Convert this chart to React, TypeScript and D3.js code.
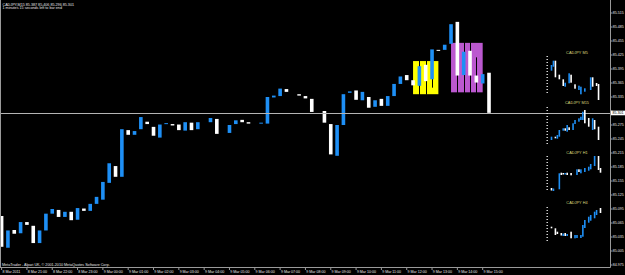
import React from 'react';
import * as d3 from 'd3';

const W = 625;
const H = 275;

// Main CADJPY M15 candles (open / close), bar 0 = 8 Mar 20:00
const candleOpen = [
  85.080, 85.012, 85.050, 85.043, 85.067, 85.059, 85.022, 85.049, 85.085, 85.093,
  85.078, 85.089, 85.072, 85.096, 85.091, 85.106, 85.115, 85.151, 85.187, 85.164,
  85.264, 85.254, 85.266, 85.282, 85.271, 85.248, 85.277, 85.277, 85.276, 85.263,
  85.280, 85.266, 85.281, 85.281, 85.288, 85.257, 85.258, 85.277, 85.286, 85.281,
  85.278, 85.278, 85.278, 85.334, 85.337, 85.352, 85.344, 85.341, 85.337, 85.331,
  85.303, 85.305, 85.277, 85.209, 85.275, 85.344, 85.349, 85.328, 85.335, 85.314,
  85.331, 85.316, 85.337, 85.363, 85.382, 85.371, 85.359, 85.404, 85.373, 85.436,
  85.436, 85.449, 85.496, 85.382, 85.434, 85.381, 85.364, 85.387,
];
const candleClose = [
  85.014, 85.049, 85.042, 85.067, 85.061, 85.022, 85.049, 85.085, 85.095, 85.078,
  85.089, 85.071, 85.097, 85.091, 85.106, 85.121, 85.153, 85.193, 85.164, 85.266,
  85.254, 85.262, 85.292, 85.277, 85.252, 85.276, 85.279, 85.274, 85.264, 85.281,
  85.264, 85.281, 85.281, 85.290, 85.256, 85.257, 85.275, 85.285, 85.281, 85.278,
  85.278, 85.280, 85.335, 85.338, 85.353, 85.346, 85.344, 85.338, 85.332, 85.303,
  85.303, 85.280, 85.212, 85.275, 85.341, 85.347, 85.329, 85.346, 85.312, 85.328,
  85.316, 85.337, 85.363, 85.379, 85.371, 85.360, 85.401, 85.369, 85.437, 85.434,
  85.447, 85.491, 85.381, 85.432, 85.381, 85.366, 85.384, 85.301,
];

// black wicks, only visible where they cross the rectangle objects
const wickBar = [66, 67, 68, 72, 73, 74, 75];
const wickHigh = [85.415, 85.414, 85.440, 85.500, 85.455, 85.455, 85.420];
const wickLow = [85.338, 85.340, 85.355, 85.342, 85.342, 85.342, 85.342];

const timeLabels = [
  '8 Mar 2011', '8 Mar 21:00', '8 Mar 22:00', '8 Mar 23:00', '9 Mar 00:00',
  '9 Mar 01:00', '9 Mar 02:00', '9 Mar 03:00', '9 Mar 04:00', '9 Mar 05:00',
  '9 Mar 06:00', '9 Mar 07:00', '9 Mar 08:00', '9 Mar 09:00', '9 Mar 10:00',
  '9 Mar 11:00', '9 Mar 12:00', '9 Mar 13:00', '9 Mar 14:00', '9 Mar 15:00',
];
const priceTicks = [
  84.975, 85.005, 85.035, 85.065, 85.095, 85.125, 85.155, 85.185, 85.215, 85.245,
  85.275, 85.305, 85.335, 85.365, 85.395, 85.425, 85.455, 85.485, 85.515,
];
const currentPrice = 85.301;

// rectangle objects: [fromBar, toBar, priceTop, priceBottom]
const rectYellow = [65, 69, 85.412, 85.341];
const rectOrchid = [71, 76, 85.451, 85.345];

// mini multi-timeframe panels (relative units above panel base)
const m5Slot = [0, 1, 2, 4, 6, 7, 9, 10, 12, 14, 15, 17, 20, 21, 23, 24];
const m5Open = [29.3, 33.3, 39.3, 25.3, 20.7, 13.3, 16.7, 25.3, 15.7, 10, 5.7, 8.3, 10, 22.7, 17, 16];
const m5Close = [35, 39.3, 22.7, 20.7, 14, 17.3, 26.7, 17.3, 11.3, 14.3, 13.3, 11.7, 22.7, 13.3, 14, 0];

const m15Slot = [0, 2, 3, 4, 6, 7, 8, 9, 11, 12, 14, 15, 16, 17, 19, 21, 22, 24];
const m15Open = [5, 8.3, 6.3, 8.3, 14.3, 16.7, 13.3, 17.7, 15, 21, 23.3, 25, 25, 35, 27, 15, 25, 18.3];
const m15Close = [8.3, 6.7, 10, 15, 16.7, 14.3, 20, 15, 21.7, 25, 26.7, 28.3, 33.3, 21.7, 18.3, 26.7, 15.7, 5];

const h1Slot = [0, 1, 4, 5, 6, 7, 8, 10, 13, 14, 15, 17, 19, 20, 22, 24, 25];
const h1Open = [7, 4, 5.7, 22.3, 22, 20.5, 22.3, 22, 20, 25.7, 21.7, 23, 24.3, 25.7, 29, 39, 27];
const h1Close = [4.5, 6.5, 21.7, 20, 20.5, 22, 20, 19.7, 25.7, 23, 25.7, 27, 28.3, 31, 39, 25, 22.3];

const h4Slot = [0, 2, 3, 5, 6, 7, 8, 10, 12, 13, 15, 16, 17, 19, 20, 22, 23, 25];
const h4Open = [15.3, 13.7, 10.3, 9, 6, 9, 6, 10.3, 3.7, 4, 4, 5.3, 14, 19.3, 21.3, 23.7, 27, 34];
const h4Close = [13.7, 7, 8, 6.5, 8.5, 6, 8, 3.7, 7, 7, 7, 17, 22, 25.3, 27, 30.3, 32, 29];

const BLUE = '#1e8ff5';
const WHITE = '#ffffff';
const AXIS = '#9a9a9a';
const LABEL = '#d6d67c';
const FONT = 'Liberation Sans, Arial, sans-serif';

function candleColor(o: number, c: number) {
  if (c > o) return BLUE;
  if (c < o) return WHITE;
  return '#000000';
}

type Panel = {
  label: string;
  base: number;
  labelY: number;
  dotTop: number;
  dotBottom: number;
  slots: number[];
  opens: number[];
  closes: number[];
};

const panels: Panel[] = [
  { label: 'CADJPY M5', base: 100, labelY: 53.5, dotTop: 56, dotBottom: 93, slots: m5Slot, opens: m5Open, closes: m5Close },
  { label: 'CADJPY M15', base: 145, labelY: 103.5, dotTop: 107, dotBottom: 143, slots: m15Slot, opens: m15Open, closes: m15Close },
  { label: 'CADJPY H1', base: 195, labelY: 153.5, dotTop: 156, dotBottom: 191, slots: h1Slot, opens: h1Open, closes: h1Close },
  { label: 'CADJPY H4', base: 242, labelY: 203.5, dotTop: 207, dotBottom: 241, slots: h4Slot, opens: h4Open, closes: h4Close },
];

export default function App() {
  const x = d3.scaleLinear().domain([0, 77]).range([1.6, 1.6 + 77 * 6.33]);
  const y = d3.scaleLinear().domain([84.975, 85.515]).range([265, 13]);
  const bw = 3.6;
  const plotRight = 610.5;
  const plotBottom = 267.5;
  const curY = y(currentPrice);

  const rects = [
    { r: rectYellow, fill: '#ffff00' },
    { r: rectOrchid, fill: '#bb58cf' },
  ];

  return (
    <svg
      width={W}
      height={H}
      viewBox={`0 0 ${W} ${H}`}
      style={{ position: 'fixed', left: 0, top: 0, background: '#000', display: 'block' }}
      fontFamily={FONT}
    >
      <rect x={0} y={0} width={W} height={H} fill="#000" />
      <defs>
        <clipPath id="plot">
          <rect x={1} y={0} width={plotRight - 1} height={plotBottom} />
        </clipPath>
      </defs>

      <g clipPath="url(#plot)">
        {rects.map(({ r, fill }, i) => (
          <rect
            key={i}
            x={x(r[0])}
            y={y(r[2])}
            width={x(r[1]) - x(r[0])}
            height={y(r[3]) - y(r[2])}
            fill={fill}
          />
        ))}

        {wickBar.map((b, i) => (
          <line
            key={'w' + i}
            x1={Math.round(x(b)) + 0.5}
            x2={Math.round(x(b)) + 0.5}
            y1={y(wickHigh[i])}
            y2={y(wickLow[i])}
            stroke="#000"
            strokeWidth={1}
          />
        ))}

        {candleOpen.map((o, i) => {
          const c = candleClose[i];
          const top = y(Math.max(o, c));
          const bot = y(Math.min(o, c));
          const h = Math.max(1, bot - top);
          return (
            <rect
              key={i}
              x={x(i) - bw / 2}
              y={top}
              width={bw}
              height={h}
              fill={candleColor(o, c)}
            />
          );
        })}

        <line x1={0} x2={plotRight} y1={Math.round(curY) + 0.5} y2={Math.round(curY) + 0.5} stroke="#b4b4b4" strokeWidth={1} />

        {panels.map((p, pi) => {
          const sx = d3.scaleLinear().domain([0, 1]).range([551.5, 553.46]);
          const sy = d3.scaleLinear().domain([0, 45]).range([p.base, p.base - 45]);
          const dots = d3.range(p.dotTop, p.dotBottom + 0.1, 3);
          return (
            <g key={pi}>
              <text x={577} y={p.labelY} fontSize={3.9} fill={LABEL} textAnchor="middle">{p.label}</text>
              {dots.map((d, di) => (
                <rect key={di} x={546.5} y={d} width={1.4} height={1} fill="#e8e8e8" />
              ))}
              {p.slots.map((s, k) => {
                const o = p.opens[k];
                const c = p.closes[k];
                const top = sy(Math.max(o, c));
                const bot = sy(Math.min(o, c));
                return (
                  <rect key={k} x={sx(s) - 0.8} y={top} width={1.6} height={Math.max(1, bot - top)} fill={candleColor(o, c)} />
                );
              })}
            </g>
          );
        })}
      </g>

      {/* frame */}
      <line x1={0.5} x2={0.5} y1={0} y2={plotBottom} stroke={AXIS} />
      <line x1={plotRight} x2={plotRight} y1={0} y2={plotBottom} stroke={AXIS} />
      <line x1={0} x2={plotRight} y1={plotBottom} y2={plotBottom} stroke={AXIS} />

      {/* header text */}
      <text x={2.5} y={5.6} fontSize={3.7} fill="#e6e6e6">CADJPY,M15  85.387 85.406 85.296 85.301</text>
      <text x={2.5} y={9.2} fontSize={3.7} fill="#e6e6e6">1 minutes 15 seconds left to bar end</text>
      <text x={2} y={265.6} fontSize={3.7} fill="#e6e6e6">MetaTrader - Alpari UK, © 2001-2010 MetaQuotes Software Corp.</text>

      {/* price axis */}
      {priceTicks.map((p, i) => {
        const yy = y(p);
        const hidden = Math.abs(yy - curY) < 5;
        return (
          <g key={i}>
            <line x1={plotRight} x2={plotRight + 2} y1={yy} y2={yy} stroke={AXIS} />
            {!hidden && (
              <text x={612.7} y={yy + 1.3} fontSize={3.6} fill="#e6e6e6">{p.toFixed(3)}</text>
            )}
          </g>
        );
      })}
      <rect x={611} y={curY - 2.2} width={14} height={4.6} fill="#ffffff" />
      <text x={612.4} y={curY + 1.4} fontSize={3.6} fill="#000">{currentPrice.toFixed(3)}</text>

      {/* time axis */}
      {timeLabels.map((t, i) => {
        const xx = x(i * 4);
        return (
          <g key={i}>
            <line x1={xx} x2={xx} y1={plotBottom} y2={plotBottom + 2.5} stroke={AXIS} />
            <text x={xx + 0.8} y={273.3} fontSize={3.6} fill="#e6e6e6">{t}</text>
          </g>
        );
      })}
    </svg>
  );
}
